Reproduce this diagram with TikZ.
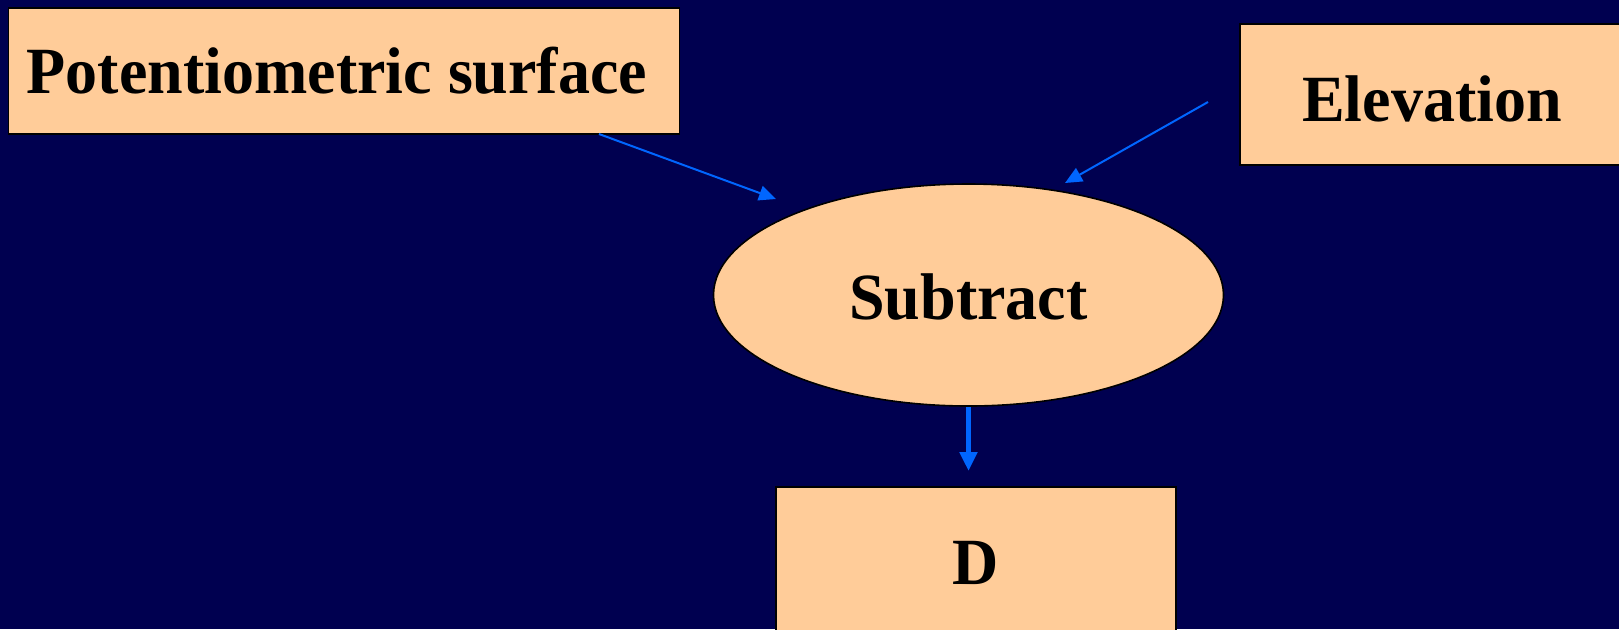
\documentclass[tikz,border=0pt]{standalone}
\usepackage{fontspec}
\setmainfont[FakeStretch=0.97]{Liberation Serif}
\usetikzlibrary{arrows.meta,shapes.geometric}
\definecolor{navy}{HTML}{000050}
\definecolor{peach}{HTML}{FFCC99}
\definecolor{linkblue}{HTML}{0066FF}
% lower a label by #1 without changing its box size
\newcommand{\lowerlabel}[2]{\raisebox{-#1}[\height][\depth]{#2}}
\begin{document}
\begin{tikzpicture}[x=0.5pt,y=-0.5pt,
  label font/.style={font=\fontsize{33}{40}\selectfont\bfseries},
  box/.style={draw=black, line width=0.8pt, fill=peach, inner sep=0pt, label font},
  oval/.style={ellipse, draw=black, line width=0.8pt, fill=peach, inner sep=0pt, label font},
  flow/.style={draw=linkblue, line width=1pt, -{Triangle[length=8.5pt,width=7.5pt]}},
  heavyflow/.style={draw=linkblue, line width=2.4pt, -{Triangle[length=9.5pt,width=8.5pt]}}]
  % background
  \fill[navy] (0,0) rectangle (1619,629);
  \useasboundingbox (0,0) rectangle (1619,629);

  % inputs, operation and result
  \node[box, minimum width=335.5pt, minimum height=63pt] (pot) at (344,71) {Potentiometric surface\kern7pt};
  \node[box, minimum width=192pt, minimum height=70.75pt] (elev) at (1432,94.5) {\lowerlabel{2pt}{Elevation}};
  \node[oval, minimum width=255pt, minimum height=111pt] (sub) at (968.5,295) {\lowerlabel{1pt}{Subtract}};
  \node[box, minimum width=200pt, minimum height=76pt] (d) at (976,563) {D};

  % free ends of the connectors
  \coordinate (potout) at (599,134);
  \coordinate (subin1) at (776,199);
  \coordinate (elevout) at (1208,102);
  \coordinate (subin2) at (1065,183);
  \coordinate (din) at (968.5,471);

  % connectors
  \draw[flow] (potout) -- (subin1);
  \draw[flow] (elevout) -- (subin2);
  \draw[heavyflow] (sub.south) -- (din);
\end{tikzpicture}
\end{document}
